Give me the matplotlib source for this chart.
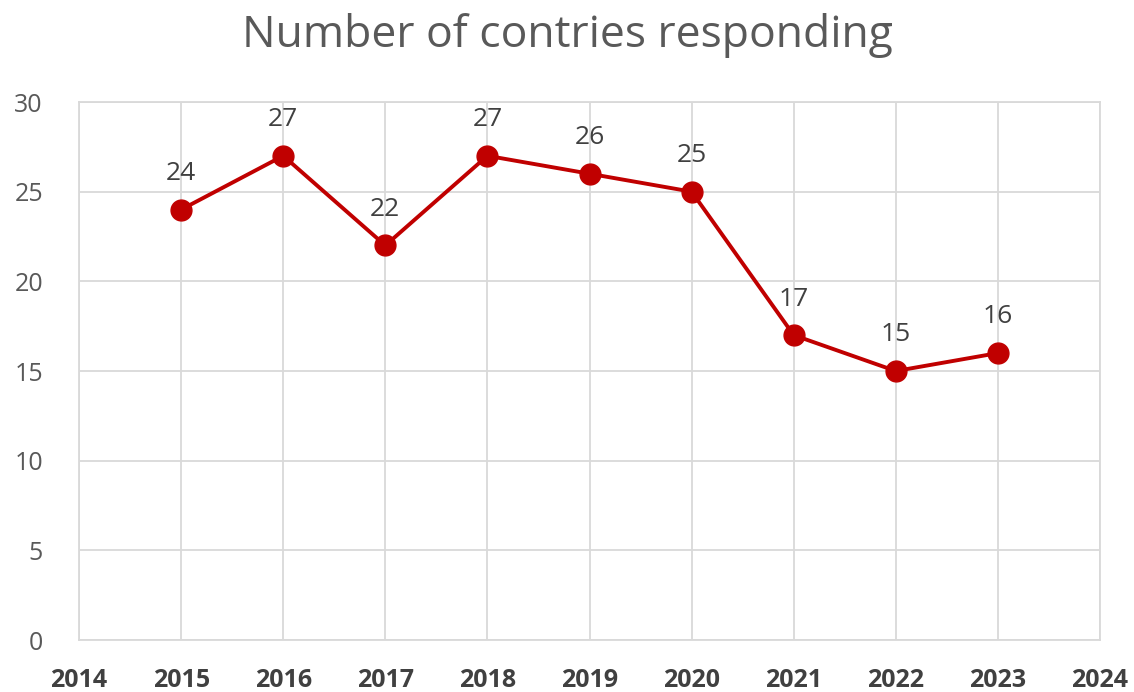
import numpy as np
import matplotlib.pyplot as plt

# countries responding per year
years = [2015, 2016, 2017, 2018, 2019, 2020, 2021, 2022, 2023]
countries = [24, 27, 22, 27, 26, 25, 17, 15, 16]
x_ticks = list(range(2014, 2025))
y_ticks = [0, 5, 10, 15, 20, 25, 30]

plt.rcParams['font.family'] = ['Open Sans', 'DejaVu Sans']

fig = plt.figure(figsize=(11.34, 6.92), dpi=100)
ax = fig.add_axes([0.0697, 0.0751, 0.9003, 0.7775])

ax.plot(years, countries, color="#C00000", lw=2.8, marker="o",
        markersize=15, markerfacecolor="#C00000", markeredgecolor="#C00000", zorder=3)

for x, y in zip(years, countries):
    ax.annotate(str(y), (x, y), xytext=(0, 17), textcoords="offset points",
                ha="center", va="bottom", fontsize=19, color="#404040")

ax.set_xlim(2014, 2024)
ax.set_ylim(0, 30)
ax.set_xticks(x_ticks)
ax.set_yticks(y_ticks)
ax.grid(True, color="#D9D9D9", lw=1.3)
ax.set_axisbelow(True)
for s in ax.spines.values():
    s.set_color("#D9D9D9")
    s.set_linewidth(1.3)

ax.tick_params(length=0)
ax.tick_params(axis="y", labelsize=18, labelcolor="#595959", pad=26)
ax.tick_params(axis="x", labelsize=18, labelcolor="#404040", pad=20)
for lab in ax.get_xticklabels():
    lab.set_fontweight("bold")

fig.text(0.5, 0.948, "Number of contries responding", ha="center", va="center",
         fontsize=32, color="#595959")

fig.savefig("out.png")
